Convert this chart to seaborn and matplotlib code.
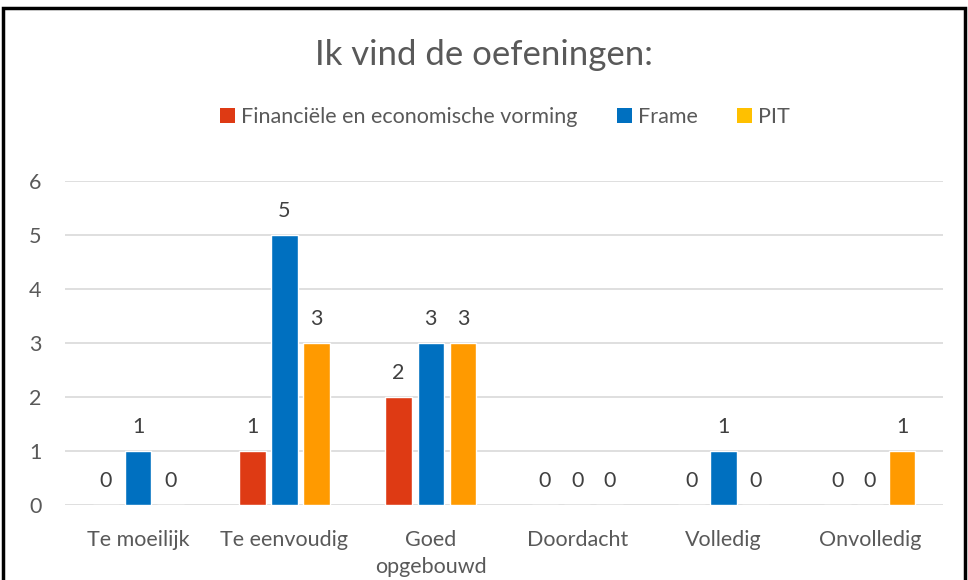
import matplotlib
matplotlib.use("Agg")
import matplotlib.pyplot as plt
from matplotlib.patches import Patch, Rectangle
import seaborn as sns
import pandas as pd

categories = ["Te moeilijk", "Te eenvoudig", "Goed\nopgebouwd", "Doordacht", "Volledig", "Onvolledig"]
series = ["Financiële en economische vorming", "Frame", "PIT"]
fin = [0, 1, 2, 0, 0, 0]
frame = [1, 5, 3, 0, 1, 0]
pit = [0, 3, 3, 0, 0, 1]
bar_colors = ["#DE3A14", "#0070C0", "#FF9A00"]
legend_colors = ["#DE3A14", "#0070C0", "#FFC000"]

rows = []
for s, vals in zip(series, [fin, frame, pit]):
    for c, v in zip(categories, vals):
        rows.append({"cat": c, "series": s, "val": v})
df = pd.DataFrame(rows)

sns.set_theme(style="white")
plt.rcParams["font.family"] = ["Lato", "DejaVu Sans"]

fig = plt.figure(figsize=(9.68, 5.8), dpi=100)
ax = fig.add_axes([65/968, 75/580, (943-65)/968, (505-181)/580])

sns.barplot(data=df, x="cat", y="val", hue="series", order=categories, hue_order=series,
            palette=bar_colors, width=0.66, gap=0.18, ax=ax, legend=False, saturation=1)

ax.set_ylim(0, 6)
ax.set_yticks(range(7))
ax.set_xlim(-0.5, len(categories) - 0.5)
ax.yaxis.grid(True, color="#D9D9D9", linewidth=1.2)
ax.set_axisbelow(True)
for sp in ax.spines.values():
    sp.set_visible(False)
ax.tick_params(axis="both", length=0, labelsize=15.5, colors="#595959")
ax.tick_params(axis="x", pad=18)
ax.tick_params(axis="y", pad=17)
for lbl in ax.get_xticklabels():
    lbl.set_linespacing(1.45)
ax.set_xlabel("")
ax.set_ylabel("")

for cont in ax.containers:
    ax.bar_label(cont, fmt="%d", padding=10, fontsize=15.5, color="#404040")

fig.text(0.5, 1 - 55/580, "Ik vind de oefeningen:", ha="center", va="center",
         fontsize=25, color="#595959")

handles = [Patch(facecolor=c, edgecolor="none") for c in legend_colors]
fig.legend(handles, series, loc="center", bbox_to_anchor=(505/968, 1 - 117/580), ncol=3,
           frameon=False, fontsize=15.5, labelcolor="#595959", handlelength=0.7,
           handleheight=0.7, handletextpad=0.3, columnspacing=1.8)

fig.patches.append(Rectangle((3/968, -0.02), (965-3)/968, 1.02 - 8/580, transform=fig.transFigure,
                             fill=False, edgecolor="black", linewidth=2.5, clip_on=False))

fig.savefig("out.png", dpi=100)
